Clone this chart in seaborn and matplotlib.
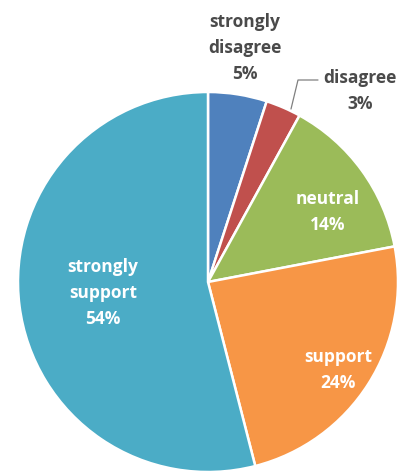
import matplotlib
matplotlib.use("Agg")
import matplotlib.pyplot as plt
import seaborn as sns

categories = ["strongly disagree", "disagree", "neutral", "support", "strongly support"]
display_labels = ["strongly\ndisagree", "disagree", "neutral", "support", "strongly\nsupport"]
percent = [5, 3, 14, 24, 54]
colors = ["#4F81BD", "#C0504D", "#9BBB59", "#F79646", "#4BACC6"]

sns.set_theme(style="white")
plt.rcParams["font.family"] = ["Open Sans", "DejaVu Sans"]

fig = plt.figure(figsize=(4.01, 4.77), dpi=100)
R = 190
cx, cy = 208, 283
W, H = 401, 477
ax = fig.add_axes([(cx - R) / W, (H - cy - R) / H, 2 * R / W, 2 * R / H])
ax.axis("off")

palette = sns.color_palette(colors)
wedges, _ = ax.pie(percent, colors=palette, startangle=90, counterclock=False,
                   radius=1, wedgeprops=dict(edgecolor="white", linewidth=1.8))
ax.set_xlim(-1, 1)
ax.set_ylim(-1, 1)
ax.set_aspect("auto")


def px(x, y):
    return (x - cx) / R, (cy - y) / R


# label centres (pixel coordinates of the reference), colours
pos = [(245, 48), (360, 91), (328, 212), (338, 370), (103, 293)]
tcol = ["#4a4a4a", "#4a4a4a", "white", "white", "white"]
for lab, p, (x, y), c in zip(display_labels, percent, pos, tcol):
    dx, dy = px(x, y)
    ax.text(dx, dy, f"{lab}\n{p}%", ha="center", va="center", color=c,
            fontsize=12.5, fontweight="bold", linespacing=1.55, clip_on=False)

# leader line for disagree
pts = [px(318, 81), px(298, 81), px(291, 110)]
ax.plot([p[0] for p in pts], [p[1] for p in pts],
        color="#808080", linewidth=0.9, clip_on=False)

fig.savefig("out.png", dpi=100, facecolor="white")
